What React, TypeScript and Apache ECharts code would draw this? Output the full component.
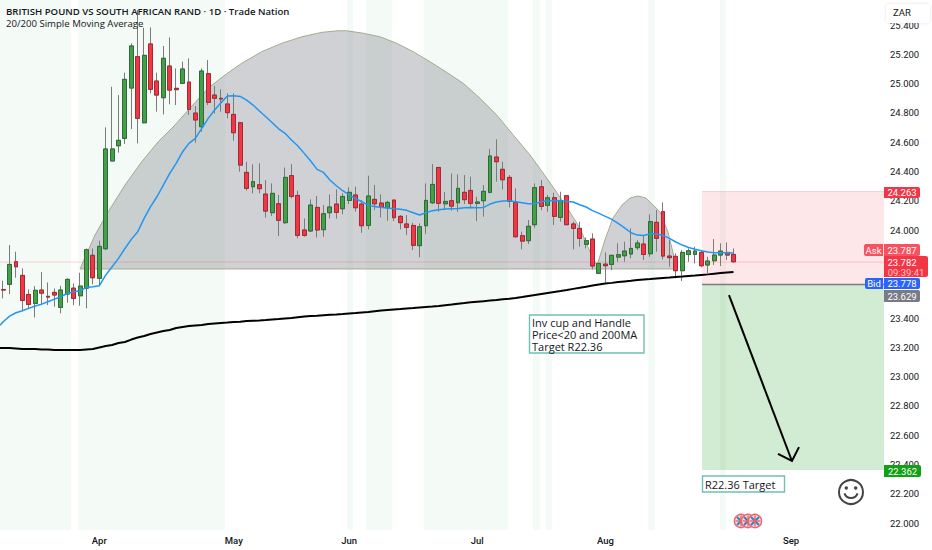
import React, { useEffect, useRef } from "react";
import * as echarts from "echarts";

const barCount = 138;
const priceMin = 21.953;
const priceMax = 25.571;

const monthNames = ["Apr", "May", "Jun", "Jul", "Aug", "Sep"];
const monthBars = [15, 36, 54, 74, 94, 123];

const yTicks = [22, 22.2, 22.4, 22.6, 22.8, 23, 23.2, 23.4, 24, 24.2, 24.4, 24.6, 24.8, 25, 25.2, 25.4];

const opens = [
  23.595, 23.63, 23.784, 23.691, 23.561, 23.5, 23.591, 23.548, 23.575, 23.473,
  23.564, 23.604, 23.552, 23.604, 23.828, 23.671, 23.873, 24.472, 24.576, 24.626,
  24.97, 25.184, 24.733, 25.271, 25.018, 24.904, 25.12, 24.968, 25.002, 25.011,
  24.799, 24.706, 25.068, 24.922, 24.9, 24.861, 24.79, 24.733, 24.394, 24.296,
  24.31, 24.246, 24.119, 24.18, 24.051, 24.372, 24.237, 24.001, 23.994, 24.155,
  24.003, 24.119, 24.178, 24.146, 24.203, 24.24, 24.178, 24.032, 24.21, 24.185,
  24.153, 24.205, 24.094, 24.042, 24.032, 23.894, 24.03, 24.187, 24.428, 24.18,
  24.201, 24.187, 24.258, 24.271, 24.183, 24.201, 24.258, 24.499, 24.415, 24.36,
  24.189, 23.962, 23.928, 24.037, 24.296, 24.169, 24.221, 24.087, 24.235, 24.042,
  24.012, 23.903, 23.939, 23.705, 23.768, 23.766, 23.816, 23.825, 23.837, 23.88,
  23.905, 23.839, 24.053, 24.126, 23.823, 23.821, 23.723, 23.834, 23.834, 23.848,
  23.762, 23.791, 23.83, 23.848, 23.834,
];
const closes = [
  23.591, 23.766, 23.75, 23.52, 23.493, 23.589, 23.57, 23.543, 23.557, 23.591,
  23.664, 23.534, 23.618, 23.866, 23.675, 23.889, 24.554, 24.554, 24.613, 25.029,
  25.257, 24.763, 25.193, 24.961, 24.922, 25.173, 24.956, 24.959, 25.1, 24.824,
  24.752, 25.086, 24.872, 24.9, 24.895, 24.802, 24.665, 24.444, 24.285, 24.331,
  24.283, 24.13, 24.251, 24.067, 24.36, 24.23, 23.964, 23.964, 24.171, 24.001,
  24.112, 24.158, 24.121, 24.23, 24.258, 24.153, 24.03, 24.233, 24.18, 24.155,
  24.189, 24.085, 24.051, 24.019, 23.896, 24.023, 24.203, 24.312, 24.183, 24.196,
  24.164, 24.285, 24.208, 24.183, 24.192, 24.265, 24.506, 24.467, 24.344, 24.196,
  23.955, 23.925, 24.026, 24.29, 24.162, 24.221, 24.094, 24.201, 24.037, 24.012,
  23.944, 23.928, 23.755, 23.773, 23.757, 23.828, 23.832, 23.857, 23.875, 23.912,
  23.834, 24.058, 23.944, 23.823, 23.812, 23.723, 23.848, 23.859, 23.857, 23.757,
  23.789, 23.83, 23.857, 23.83, 23.784,
];
const lows = [
  23.534, 23.564, 23.675, 23.454, 23.466, 23.404, 23.488, 23.488, 23.477, 23.432,
  23.504, 23.488, 23.484, 23.466, 23.63, 23.618, 23.864, 24.472, 24.529, 24.588,
  24.69, 24.592, 24.729, 24.934, 24.809, 24.79, 24.859, 24.854, 24.997, 24.786,
  24.597, 24.672, 24.854, 24.797, 24.809, 24.763, 24.611, 24.399, 24.269, 24.251,
  24.251, 24.085, 24.096, 23.96, 24.042, 24.217, 23.944, 23.955, 23.989, 23.95,
  23.955, 24.08, 24.078, 24.108, 24.178, 24.126, 23.982, 24.005, 24.137, 24.087,
  24.064, 24.062, 24.005, 23.966, 23.864, 23.814, 23.973, 24.178, 24.126, 24.137,
  24.133, 24.126, 24.178, 24.148, 24.062, 24.092, 24.251, 24.331, 24.278, 24.155,
  23.948, 23.869, 23.905, 24.017, 24.137, 24.126, 24.035, 24.058, 24.035, 23.869,
  23.887, 23.875, 23.732, 23.7, 23.641, 23.727, 23.784, 23.784, 23.807, 23.864,
  23.796, 23.818, 23.853, 23.8, 23.75, 23.671, 23.652, 23.784, 23.773, 23.746,
  23.705, 23.762, 23.755, 23.796, 23.778,
];
const highs = [
  23.655, 23.898, 23.853, 23.739, 23.595, 23.618, 23.714, 23.643, 23.602, 23.62,
  23.671, 23.636, 23.709, 23.875, 23.875, 23.928, 24.702, 24.979, 24.922, 25.075,
  25.275, 25.503, 25.382, 25.384, 25.075, 25.257, 25.316, 25.104, 25.15, 25.173,
  24.847, 25.104, 25.161, 24.984, 24.961, 24.934, 24.934, 24.74, 24.467, 24.449,
  24.456, 24.342, 24.319, 24.24, 24.428, 24.451, 24.269, 24.08, 24.21, 24.233,
  24.171, 24.244, 24.278, 24.251, 24.292, 24.296, 24.205, 24.372, 24.308, 24.244,
  24.201, 24.21, 24.103, 24.103, 24.051, 24.046, 24.319, 24.451, 24.428, 24.26,
  24.387, 24.381, 24.376, 24.365, 24.228, 24.308, 24.554, 24.62, 24.467, 24.376,
  24.285, 23.989, 24.069, 24.319, 24.342, 24.24, 24.255, 24.262, 24.24, 24.057,
  24.057, 23.95, 23.978, 23.773, 23.848, 23.83, 23.91, 23.921, 24.012, 23.932,
  23.96, 24.108, 24.137, 24.189, 23.932, 23.841, 23.864, 23.875, 23.887, 23.864,
  23.818, 23.939, 23.91, 23.916, 23.875,
];

const ma20Start = 23.35;
const ma20 = [
  23.375, 23.413, 23.436, 23.45, 23.466, 23.482, 23.495, 23.511, 23.529, 23.545,
  23.568, 23.579, 23.586, 23.609, 23.614, 23.62, 23.693, 23.75, 23.807, 23.875,
  23.937, 23.989, 24.08, 24.16, 24.228, 24.308, 24.387, 24.456, 24.535, 24.592,
  24.626, 24.695, 24.763, 24.82, 24.87, 24.916, 24.918, 24.913, 24.888, 24.854,
  24.813, 24.774, 24.733, 24.692, 24.661, 24.615, 24.574, 24.524, 24.472, 24.415,
  24.394, 24.342, 24.303, 24.269, 24.24, 24.214, 24.194, 24.169, 24.162, 24.155,
  24.151, 24.146, 24.142, 24.135, 24.119, 24.103, 24.119, 24.133, 24.139, 24.144,
  24.146, 24.148, 24.153, 24.155, 24.153, 24.155, 24.178, 24.192, 24.199, 24.201,
  24.194, 24.187, 24.18, 24.18, 24.194, 24.201, 24.203, 24.201, 24.196, 24.192,
  24.173, 24.158, 24.133, 24.114, 24.094, 24.073, 24.046, 24.016, 23.982, 23.966,
  23.964, 23.975, 23.973, 23.964, 23.944, 23.919, 23.898, 23.882, 23.869, 23.859,
  23.85, 23.846, 23.846, 23.846, 23.844,
];
const ma200Start = 23.195;
const ma200 = [
  23.195, 23.195, 23.192, 23.188, 23.188, 23.188, 23.185, 23.185, 23.182, 23.182,
  23.182, 23.182, 23.182, 23.185, 23.188, 23.199, 23.209, 23.216, 23.229, 23.236,
  23.253, 23.267, 23.277, 23.291, 23.301, 23.311, 23.318, 23.332, 23.339, 23.345,
  23.349, 23.352, 23.359, 23.363, 23.366, 23.369, 23.373, 23.375, 23.379, 23.381,
  23.383, 23.386, 23.39, 23.393, 23.397, 23.4, 23.405, 23.41, 23.414, 23.416,
  23.419, 23.422, 23.424, 23.427, 23.431, 23.434, 23.438, 23.441, 23.446, 23.451,
  23.455, 23.458, 23.461, 23.465, 23.468, 23.472, 23.475, 23.478, 23.482, 23.487,
  23.492, 23.498, 23.502, 23.507, 23.511, 23.515, 23.519, 23.523, 23.528, 23.532,
  23.537, 23.543, 23.55, 23.557, 23.564, 23.571, 23.578, 23.584, 23.591, 23.599,
  23.606, 23.614, 23.622, 23.629, 23.635, 23.64, 23.646, 23.65, 23.654, 23.659,
  23.663, 23.666, 23.67, 23.673, 23.676, 23.68, 23.683, 23.687, 23.69, 23.694,
  23.698, 23.703, 23.707, 23.711, 23.714,
];

// green session bands, in bar units [start, end]
const sessionStarts = [0, 12.2, 54.2, 57.1, 66.2, 83.2, 85.2, 101.2, 112.4];
const sessionEnds = [11.1, 35.1, 55.1, 61.2, 79.3, 84.3, 86.2, 102.2, 113.3];

// inverted cup outline (bar, price)
const cupBars = [
  12.49, 14.83, 16.91, 19.51, 22.12, 24.71, 27.32, 29.39, 32.52, 35.12, 37.73, 40.85, 43.97, 47.1, 50.22, 52.76,
  54.12, 56.71, 59.32, 61.93, 64.52, 67.12, 69.73, 72.32, 74.93, 77.54, 80.13, 82.74, 85.34, 87.93, 90.54, 92.1,
  93.15, 93.35,
];
const cupPrices = [
  23.735, 23.967, 24.126, 24.308, 24.467, 24.604, 24.718, 24.82, 24.97, 25.059, 25.139, 25.218, 25.275, 25.32,
  25.35, 25.361, 25.361, 25.344, 25.32, 25.275, 25.218, 25.15, 25.077, 25.002, 24.9, 24.786, 24.649, 24.513,
  24.356, 24.194, 24.014, 23.853, 23.762, 23.735,
];
const handleBars = [93.04, 94.44, 95.69, 97.1, 98.35, 99.59, 100.84, 102.1, 103.03, 104.28, 105.68];
const handlePrices = [23.735, 23.933, 24.083, 24.171, 24.219, 24.233, 24.219, 24.165, 24.124, 23.987, 23.735];

const lastPrice = 23.782;
const stopPrice = 24.263;
const entryPrice = 23.629;
const targetPrice = 22.362;
const positionStartBar = 109.6;

const arrowBars = [113.8, 123.63];
const arrowPrices = [23.557, 22.424];
const arrowHeadBars = [121.45, 123.63, 124.73];
const arrowHeadPrices = [22.472, 22.424, 22.519];

const titleText = "BRITISH POUND VS SOUTH AFRICAN RAND · 1D · Trade Nation";
const subtitleText = "20/200 Simple Moving Average";
const noteLines = ["Inv cup and Handle", "Price<20 and 200MA", "Target R22.36"];
const targetNote = "R22.36 Target";

const FONT = '"Open Sans", sans-serif';
const AXIS_FONT = "Roboto, sans-serif";

const categories = Array.from({ length: barCount }, (_, i) => {
  const k = monthBars.indexOf(i);
  return k >= 0 ? monthNames[k] : String(i);
});

function polyShape(api: any, xs: number[], ys: number[]) {
  return xs.map((x, i) => api.coord([x, ys[i]]));
}

function overlay(name: string, z: number, render: (api: any) => any) {
  return {
    type: "custom",
    name,
    xAxisIndex: 1,
    yAxisIndex: 0,
    z,
    silent: true,
    clip: false,
    data: [[0, priceMin]],
    renderItem: (_p: any, api: any) => render(api),
  };
}

function rectBetween(api: any, x0: number, x1: number, p0: number, p1: number) {
  const a = api.coord([x0, p0]);
  const b = api.coord([x1, p1]);
  return { x: a[0], y: a[1], width: b[0] - a[0], height: b[1] - a[1] };
}

function tag(x: number, y: number, w: number, h: number, fill: string, label: string, r: number[], tx?: number) {
  return [
    { type: "rect", z: 50, shape: { x, y, width: w, height: h, r }, style: { fill } },
    {
      type: "text",
      z: 51,
      x: tx ?? x + w / 2,
      y: y + h / 2,
      style: { text: label, fill: "#ffffff", font: `9.5px ${AXIS_FONT}`, align: "center", verticalAlign: "middle" },
    },
  ];
}

function flag(cx: number, cy: number) {
  const line = (x1: number, y1: number, x2: number, y2: number, stroke: string, w: number) => ({
    type: "line",
    z: 40,
    shape: { x1, y1, x2, y2 },
    style: { stroke, lineWidth: w },
  });
  return [
    { type: "circle", z: 40, shape: { cx, cy, r: 6.6 }, style: { fill: "#d5e4ee", stroke: "#f5606c", lineWidth: 1.4 } },
    line(cx - 4, cy - 4, cx + 4, cy + 4, "#3f7fa8", 2),
    line(cx - 4, cy + 4, cx + 4, cy - 4, "#3f7fa8", 2),
    line(cx - 5.4, cy, cx + 5.4, cy, "#f5606c", 1.4),
    line(cx, cy - 5.4, cx, cy + 5.4, "#f5606c", 1.4),
  ];
}

function buildGraphic() {
  const els: any[] = [];
  els.push({
    type: "text", z: 50, x: 6, y: 11,
    style: { text: titleText, fill: "#131722", font: `600 9.6px ${FONT}`, verticalAlign: "middle" },
  });
  els.push({
    type: "text", z: 50, x: 6, y: 23,
    style: { text: subtitleText, fill: "#131722", font: `9.6px ${FONT}`, verticalAlign: "middle" },
  });
  els.push({
    type: "rect", z: 50, shape: { x: 886, y: 4, width: 44, height: 19, r: 2 },
    style: { fill: "#ffffff", shadowBlur: 3, shadowColor: "rgba(0,0,0,0.12)" },
  });
  els.push({
    type: "text", z: 51, x: 893, y: 12,
    style: { text: "ZAR", fill: "#131722", font: `9.5px ${AXIS_FONT}`, verticalAlign: "middle" },
  });
  els.push(...tag(884, 187, 36, 11, "#f23645", stopPrice.toFixed(3), [0, 2, 2, 0]));
  els.push(...tag(864, 244, 19, 12, "#f7525f", "Ask", [2, 0, 0, 2]));
  els.push(...tag(884, 244, 36, 12, "#f7525f", "23.787", [0, 2, 2, 0]));
  els.push({ type: "rect", z: 50, shape: { x: 884, y: 256, width: 44, height: 21, r: [0, 2, 2, 0] }, style: { fill: "#f23645" } });
  els.push({
    type: "text", z: 51, x: 902, y: 262,
    style: { text: lastPrice.toFixed(3), fill: "#ffffff", font: `9.5px ${AXIS_FONT}`, align: "center", verticalAlign: "middle" },
  });
  els.push({
    type: "text", z: 51, x: 906, y: 272,
    style: { text: "09:39:41", fill: "#fbc3c8", font: `9.5px ${AXIS_FONT}`, align: "center", verticalAlign: "middle" },
  });
  els.push(...tag(865, 278, 18, 11, "#2962ff", "Bid", [2, 0, 0, 2]));
  els.push(...tag(884, 278, 36, 11, "#2962ff", "23.778", [0, 2, 2, 0]));
  els.push(...tag(884, 290, 36, 12, "#787b86", entryPrice.toFixed(3), [0, 2, 2, 0]));
  els.push(...tag(884, 465, 37, 12, "#12a015", targetPrice.toFixed(3), [0, 2, 2, 0]));

  els.push({
    type: "rect", z: 45, shape: { x: 529.5, y: 315, width: 114.5, height: 38 },
    style: { fill: "#ffffff", stroke: "#6fc0b4", lineWidth: 1.4 },
  });
  noteLines.forEach((t, i) => {
    els.push({
      type: "text", z: 46, x: 532, y: 322.5 + i * 11.8,
      style: { text: t, fill: "#131722", font: `11px ${FONT}`, verticalAlign: "middle" },
    });
  });
  els.push({
    type: "rect", z: 45, shape: { x: 702.5, y: 476, width: 82, height: 16 },
    style: { fill: "#ffffff", stroke: "#6fc0b4", lineWidth: 1.4 },
  });
  els.push({
    type: "text", z: 46, x: 705, y: 484,
    style: { text: targetNote, fill: "#131722", font: `11px ${FONT}`, verticalAlign: "middle" },
  });

  // smiley
  els.push({ type: "circle", z: 40, shape: { cx: 851, cy: 492, r: 12 }, style: { fill: "none", stroke: "#444444", lineWidth: 2 } });
  els.push({ type: "circle", z: 40, shape: { cx: 846.3, cy: 488, r: 1.7 }, style: { fill: "#444444" } });
  els.push({ type: "circle", z: 40, shape: { cx: 855.7, cy: 488, r: 1.7 }, style: { fill: "#444444" } });
  els.push({
    type: "arc", z: 40,
    shape: { cx: 851, cy: 491, r: 7, startAngle: 0.35, endAngle: Math.PI - 0.35, clockwise: true },
    style: { fill: "none", stroke: "#444444", lineWidth: 2 },
  });

  els.push(...flag(741, 521), ...flag(748, 521), ...flag(755, 521));
  return els;
}

export default function App() {
  const ref = useRef<HTMLDivElement>(null);
  useEffect(() => {
    const chart = echarts.init(ref.current!, undefined, { renderer: "svg" });
    const candles = opens.map((o, i) => [o, closes[i], lows[i], highs[i]]);
    const bodies = opens.map((o, i) => [o, closes[i], Math.min(o, closes[i]), Math.max(o, closes[i])]);
    const lineData = (start: number, values: number[]) => [[0, start], ...values.map((v, i) => [i + 0.5, v])];

    chart.setOption({
      animation: false,
      backgroundColor: "#ffffff",
      grid: { left: 0, right: 48, top: 0, height: 530, containLabel: false },
      xAxis: [
        {
          type: "category",
          data: categories,
          boundaryGap: true,
          axisLine: { show: false },
          axisTick: { show: false },
          splitLine: { show: false },
          axisLabel: {
            interval: (i: number) => monthBars.includes(i),
            margin: 5,
            color: "#131722",
            fontFamily: AXIS_FONT,
            fontSize: 9.5,
            fontWeight: 500,
            hideOverlap: false,
          },
        },
        { type: "value", min: 0, max: barCount, show: false, splitLine: { show: false } },
      ],
      yAxis: {
        type: "value",
        position: "right",
        min: priceMin,
        max: priceMax,
        axisLine: { show: false },
        axisTick: { show: false },
        splitLine: { show: false },
        axisLabel: {
          customValues: yTicks,
          margin: 6,
          color: "#131722",
          fontFamily: AXIS_FONT,
          fontSize: 9.5,
          formatter: (v: number) => v.toFixed(3),
        },
      },
      series: [
        overlay("Sessions", 1, (api) => ({
          type: "group",
          children: sessionStarts.map((s, i) => ({
            type: "rect",
            shape: rectBetween(api, s, sessionEnds[i], priceMin, priceMax),
            style: { fill: "rgba(76,175,80,0.06)" },
          })),
        })),
        overlay("Position", 2, (api) => ({
          type: "group",
          children: [
            {
              type: "rect",
              shape: rectBetween(api, positionStartBar, barCount, entryPrice, stopPrice),
              style: { fill: "rgba(242,54,69,0.12)" },
            },
            {
              type: "rect",
              shape: rectBetween(api, positionStartBar, barCount, targetPrice, entryPrice),
              style: { fill: "rgba(76,175,80,0.25)" },
            },
            {
              type: "polyline",
              shape: { points: polyShape(api, [positionStartBar, barCount], [stopPrice, stopPrice]) },
              style: { fill: "none", stroke: "rgba(242,54,69,0.2)", lineWidth: 1 },
            },
            {
              type: "polyline",
              shape: { points: polyShape(api, [positionStartBar, barCount], [entryPrice, entryPrice]) },
              style: { fill: "none", stroke: "#787b86", lineWidth: 1.4 },
            },
          ],
        })),
        overlay("Inverted cup", 3, (api) => ({
          type: "polygon",
          shape: { points: polyShape(api, cupBars, cupPrices) },
          style: { fill: "rgba(120,123,134,0.35)", stroke: "#a9a98f", lineWidth: 1 },
        })),
        overlay("Handle", 3, (api) => ({
          type: "polygon",
          shape: { points: polyShape(api, handleBars, handlePrices) },
          style: { fill: "rgba(120,123,134,0.35)", stroke: "#a9a98f", lineWidth: 1 },
        })),
        overlay("Last price", 4, (api) => ({
          type: "polyline",
          shape: { points: polyShape(api, [0, barCount], [lastPrice, lastPrice]) },
          style: { fill: "none", stroke: "rgba(242,54,69,0.22)", lineWidth: 1 },
        })),
        {
          type: "candlestick",
          name: "Wicks",
          xAxisIndex: 0,
          z: 5,
          barWidth: 4.4,
          data: candles,
          itemStyle: {
            color: "#43a047",
            color0: "#f23645",
            borderColor: "#7b7b7b",
            borderColor0: "#7b7b7b",
            borderWidth: 1,
          },
        },
        {
          type: "candlestick",
          name: "GBPZAR",
          xAxisIndex: 0,
          z: 6,
          barWidth: 4.4,
          data: bodies,
          itemStyle: {
            color: "#43a047",
            color0: "#f23645",
            borderColor: "#2f6b3a",
            borderColor0: "#a12a35",
            borderWidth: 1,
          },
        },
        {
          type: "line",
          name: "SMA 20",
          xAxisIndex: 1,
          z: 7,
          data: lineData(ma20Start, ma20),
          showSymbol: false,
          lineStyle: { color: "#2196f3", width: 1.5 },
        },
        {
          type: "line",
          name: "SMA 200",
          xAxisIndex: 1,
          z: 7,
          data: lineData(ma200Start, ma200),
          showSymbol: false,
          lineStyle: { color: "#000000", width: 2 },
        },
        overlay("Arrow", 8, (api) => ({
          type: "group",
          children: [
            {
              type: "polyline",
              shape: { points: polyShape(api, arrowBars, arrowPrices) },
              style: { fill: "none", stroke: "#000000", lineWidth: 2 },
            },
            {
              type: "polyline",
              shape: { points: polyShape(api, arrowHeadBars, arrowHeadPrices) },
              style: { fill: "none", stroke: "#000000", lineWidth: 2 },
            },
          ],
        })),
      ],
      graphic: buildGraphic(),
    });
    return () => chart.dispose();
  }, []);

  return (
    <div
      ref={ref}
      style={{ position: "fixed", left: 0, top: 0, width: 932, height: 550, background: "#ffffff" }}
    />
  );
}
